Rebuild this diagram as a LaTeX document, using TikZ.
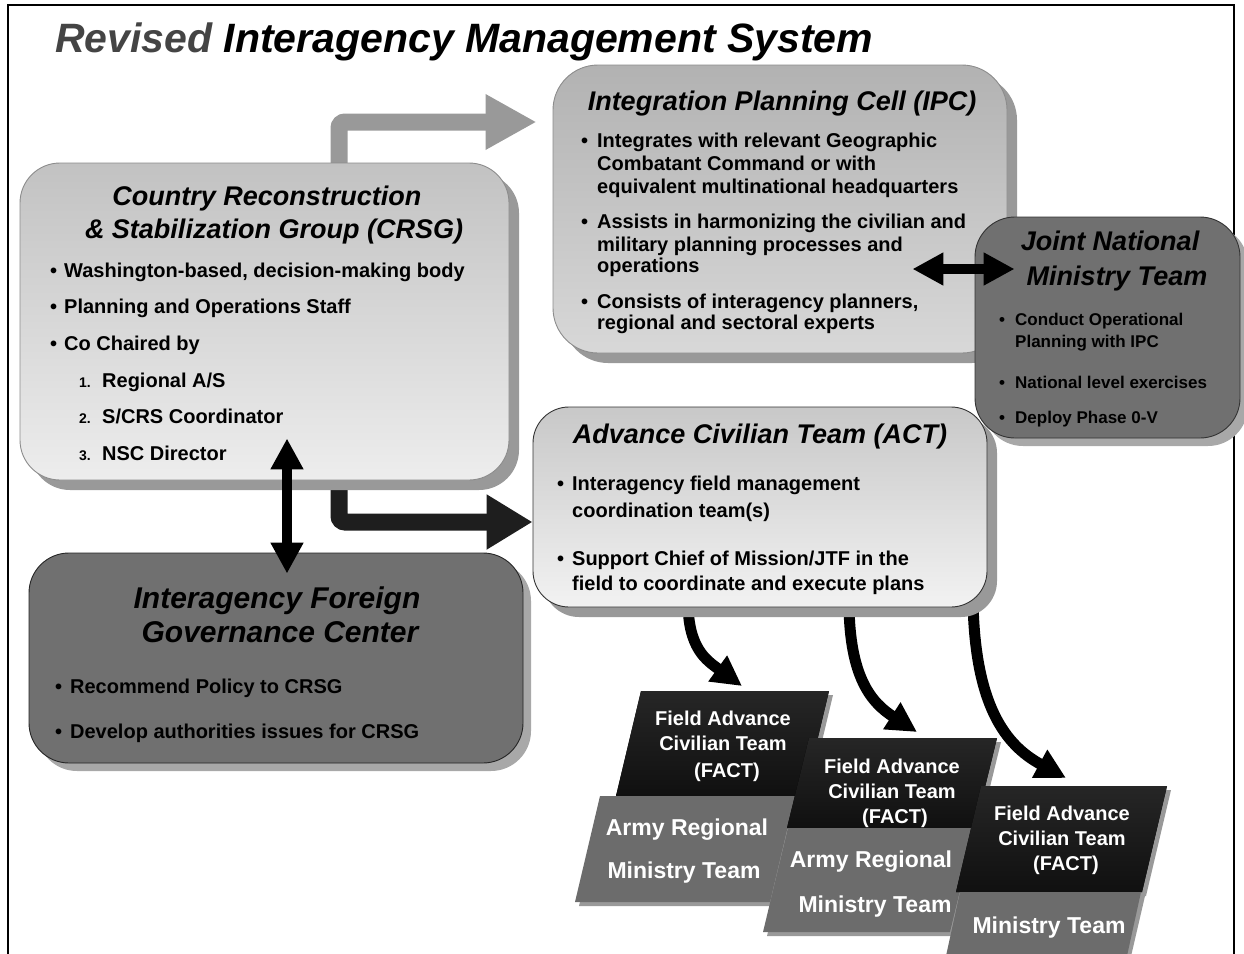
\documentclass[tikz,border=0pt]{standalone}
\usepackage{fontspec}
\setmainfont{Liberation Sans}
\usetikzlibrary{arrows.meta,shadows,backgrounds,calc}
\definecolor{revgray}{HTML}{444444}
\definecolor{crsgtop}{HTML}{C2C2C2}
\definecolor{crsgbot}{HTML}{EDEDED}
\definecolor{ipctop}{HTML}{B2B2B2}
\definecolor{ipcbot}{HTML}{D8D8D8}
\definecolor{acttop}{HTML}{C8C8C8}
\definecolor{actbot}{HTML}{F2F2F2}
\definecolor{darkbox}{HTML}{707070}
\definecolor{shadowgray}{HTML}{999999}
\definecolor{lightshadow}{HTML}{A8A8A8}
\definecolor{arrgray}{HTML}{999999}
\definecolor{arrblack}{HTML}{1E1E1E}
\definecolor{facttop}{HTML}{262626}
\definecolor{factbot}{HTML}{101010}
\definecolor{teamgray}{HTML}{6C6C6C}
\newcommand\bl[1]{\makebox[#1][l]{\textbullet}}
\begin{document}
\begin{tikzpicture}[x=1pt,y=-1pt,
  box/.style={draw, line width=0.9pt, rounded corners=40pt, inner sep=0pt},
  lshadow/.style={drop shadow={shadow xshift=10pt, shadow yshift=-10pt, fill=shadowgray, opacity=1}},
  dshadow/.style={drop shadow={shadow xshift=8pt, shadow yshift=-8pt, fill=lightshadow, opacity=1}},
  ttl/.style={font=\fontsize{27}{32}\selectfont\bfseries\itshape, anchor=base, inner sep=0pt},
  bt/.style={font=\fontsize{20}{24}\selectfont\bfseries, anchor=base west, inner sep=0pt},
  st/.style={font=\fontsize{17}{20}\selectfont\bfseries, anchor=base west, inner sep=0pt},
  num/.style={font=\fontsize{14}{16}\selectfont\bfseries, anchor=base west, inner sep=0pt},
  ft/.style={font=\fontsize{20}{24}\selectfont\bfseries, anchor=base, inner sep=0pt, text=white},
  gt/.style={font=\fontsize{23}{27}\selectfont\bfseries, anchor=base, inner sep=0pt, text=white},
  ga/.style={line width=17pt, draw=arrgray, rounded corners=6pt, -{Triangle[length=51pt,width=52pt]}},
  ba/.style={line width=17pt, draw=arrblack, rounded corners=6pt, -{Triangle[length=46pt,width=52pt]}},
  dbl/.style={line width=10pt, draw=black, {Triangle[length=31pt,width=31pt]}-{Triangle[length=31pt,width=31pt]}},
  cur/.style={line width=11pt, draw=black, -{Triangle[length=30pt,width=30pt]}},
  fact/.style={top color=facttop, bottom color=factbot, draw=none},
  team/.style={fill=teamgray, draw=none},
  fshadow/.style={fill=shadowgray}
]
\useasboundingbox (0,0) rectangle (1244,953);

% ---------- boxes ----------
\node[box, draw=black!45, top color=ipctop, bottom color=ipcbot, minimum width=454, minimum height=288, rounded corners=45pt, lshadow] (ipc) at (780,209) {};
\node[box, draw=black!45, top color=crsgtop, bottom color=crsgbot, minimum width=489, minimum height=317, lshadow] (crsg) at (264.5,321.5) {};
\node[box, draw=black!80, fill=darkbox, minimum width=265, minimum height=221, dshadow] (jnmt) at (1107.5,327.5) {};
\node[box, draw=black!80, top color=acttop, bottom color=actbot, minimum width=454, minimum height=200, rounded corners=36pt, lshadow] (act) at (760,507) {};
\node[box, draw=black!85, fill=darkbox, minimum width=494, minimum height=210, dshadow] (ifgc) at (276,658) {};

% ---------- background: frame and connectors behind boxes ----------
\begin{pgfonlayer}{background}
\draw[line width=2.5pt] (8,960) -- (8,5) -- (1234,5) -- (1234,960);
\draw[ga] ($(crsg.north -| 339,0)+(0,8)$) |- ($(ipc.west |- 0,122)+(-16,0)$);
\draw[ba] ($(crsg.south -| 339,0)+(0,-8)$) |- (act.west |- 0,522);
\coordinate (c1s) at ($(act.south -| 688,0)+(0,-6)$);
\coordinate (c1e) at (742,686);
\coordinate (c2s) at ($(act.south -| 849,0)+(0,-6)$);
\coordinate (c2e) at (917,732);
\coordinate (c3s) at ($(act.south -| 973,0)+(0,-6)$);
\coordinate (c3e) at (1066,778);
\draw[cur] (c1s) .. controls (688,648) and (706,660) .. (c1e);
\draw[cur] (c2s) .. controls (849,678) and (872,703) .. (c2e);
\draw[cur] (c3s) .. controls (975,705) and (1005,745) .. (c3e);
\end{pgfonlayer}

% ---------- title ----------
\node[font=\fontsize{41}{47}\selectfont\bfseries\itshape, anchor=base west, inner sep=0pt] (title) at (55,52)
  {\textcolor{revgray}{Revised} Interagency Management System};

% ---------- CRSG text ----------
\node[ttl] (crsgt1) at (267,205) {Country Reconstruction};
\node[ttl] (crsgt2) at (274,238) {\& Stabilization Group (CRSG)};
\node[bt] (crsg1) at (50,277) {\bl{14pt}Washington-based, decision-making body};
\node[bt] (crsg2) at (50,313) {\bl{14pt}Planning and Operations Staff};
\node[bt] (crsg3) at (50,350) {\bl{14pt}Co Chaired by};
\node[num] (n1) at (79,387) {1.};
\node[bt] (crsg4) at (102,387) {Regional A/S};
\node[num] (n2) at (79,423) {2.};
\node[bt] (crsg5) at (102,423) {S/CRS Coordinator};
\node[num] (n3) at (79,460) {3.};
\node[bt] (crsg6) at (102,460) {NSC Director};

% ---------- IPC text ----------
\node[ttl] (ipct) at (782,110) {Integration Planning Cell (IPC)};
\node[bt] (ipc1) at (581,147) {\bl{16pt}Integrates with relevant Geographic};
\node[bt] (ipc2) at (597,170) {Combatant Command or with};
\node[bt] (ipc3) at (597,193) {equivalent multinational headquarters};
\node[bt] (ipc4) at (581,228) {\bl{16pt}Assists in harmonizing the civilian and};
\node[bt] (ipc5) at (597,251) {military planning processes and};
\node[bt] (ipc6) at (597,272) {operations};
\node[bt] (ipc7) at (581,308) {\bl{16pt}Consists of interagency planners,};
\node[bt] (ipc8) at (597,329) {regional and sectoral experts};

% ---------- JNMT text ----------
\node[ttl] (jnmtt1) at (1110,250) {Joint National};
\node[ttl] (jnmtt2) at (1117,285) {Ministry Team};
\node[st] (jn1) at (999,325) {\bl{16pt}Conduct Operational};
\node[st] (jn2) at (1015,347) {Planning with IPC};
\node[st] (jn3) at (999,388) {\bl{16pt}National level exercises};
\node[st] (jn4) at (999,423) {\bl{16pt}Deploy Phase 0-V};

% ---------- ACT text ----------
\node[ttl] (actt) at (760,443) {Advance Civilian Team (ACT)};
\node[bt] (act1) at (557,490) {\bl{15pt}Interagency field management};
\node[bt] (act2) at (572,517) {coordination team(s)};
\node[bt] (act3) at (557,565) {\bl{15pt}Support Chief of Mission/JTF in the};
\node[bt] (act4) at (572,590) {field to coordinate and execute plans};

% ---------- IFGC text ----------
\node[ttl, font=\fontsize{30}{35}\selectfont\bfseries\itshape] (ifgct1) at (277,608) {Interagency Foreign};
\node[ttl, font=\fontsize{30}{35}\selectfont\bfseries\itshape] (ifgct2) at (280,642) {Governance Center};
\node[bt] (if1) at (55,693) {\bl{15pt}Recommend Policy to CRSG};
\node[bt] (if2) at (55,738) {\bl{15pt}Develop authorities issues for CRSG};

% ---------- connectors on top ----------
\draw[dbl] ($(crsg.south -| 287,0)+(0,-42)$) -- ($(ifgc.north -| 287,0)+(0,21)$);
\draw[dbl] ($(ipc.east |- 0,269)+(-95,0)$) -- ($(jnmt.west |- 0,269)+(40,0)$);

% ---------- FACT stacks ----------
% stack 1
\fill[fshadow] (645,695) -- (833,695) -- (808,800) -- (620,800) -- cycle;
\fill[fact] (641,691) -- (829,691) -- (804,796) -- (616,796) -- cycle;
\fill[fshadow] (604,800) -- (799,800) -- (774,906) -- (579,906) -- cycle;
\fill[team] (600,796) -- (795,796) -- (770,902) -- (575,902) -- cycle;
\node[ft] (f1a) at (723,725) {Field Advance};
\node[ft] (f1b) at (723,750) {Civilian Team};
\node[ft] (f1c) at (727,777) {(FACT)};
\node[gt] (g1a) at (687,835) {Army Regional};
\node[gt] (g1b) at (684,878) {Ministry Team};
% stack 2
\fill[fshadow] (813,742) -- (1001,742) -- (979,832) -- (791,832) -- cycle;
\fill[fact] (809,738) -- (997,738) -- (975,828) -- (787,828) -- cycle;
\fill[fshadow] (792,832) -- (979,832) -- (954,936) -- (767,936) -- cycle;
\fill[team] (788,828) -- (975,828) -- (950,932) -- (763,932) -- cycle;
\node[ft] (f2a) at (892,773) {Field Advance};
\node[ft] (f2b) at (892,798) {Civilian Team};
\node[ft] (f2c) at (895,823) {(FACT)};
\node[gt] (g2a) at (871,867) {Army Regional};
\node[gt] (g2b) at (875,912) {Ministry Team};
% stack 3
\fill[fshadow] (985,790) -- (1171,790) -- (1146,896) -- (960,896) -- cycle;
\fill[fact] (981,786) -- (1167,786) -- (1142,892) -- (956,892) -- cycle;
\fill[fshadow] (964,896) -- (1145,896) -- (1129,965) -- (948,965) -- cycle;
\fill[team] (960,892) -- (1141,892) -- (1125,965) -- (944,965) -- cycle;
\node[ft] (f3a) at (1062,820) {Field Advance};
\node[ft] (f3b) at (1062,845) {Civilian Team};
\node[ft] (f3c) at (1066,870) {(FACT)};
\node[gt] (g3a) at (1049,933) {Ministry Team};
\end{tikzpicture}
\end{document}
